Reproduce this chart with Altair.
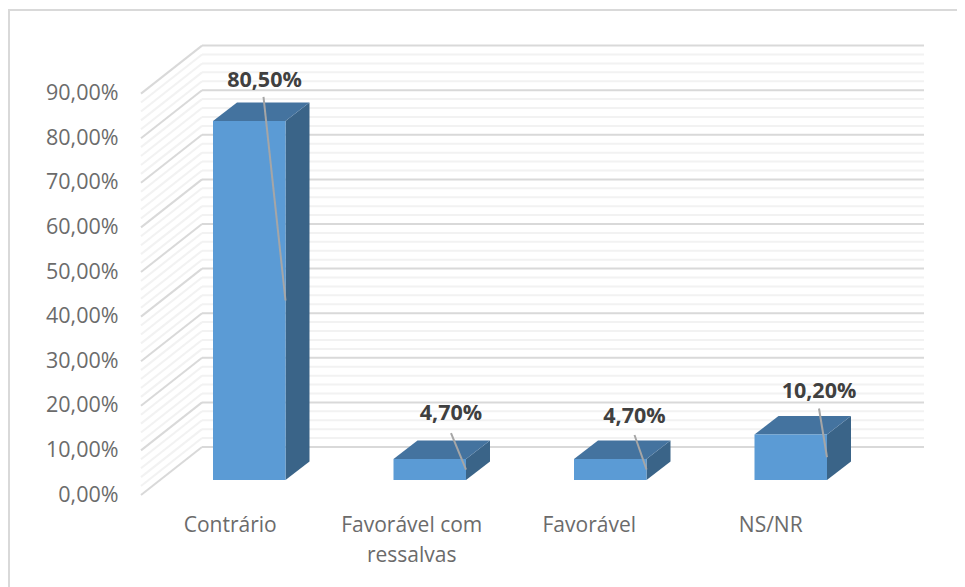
import altair as alt
import pandas as pd

categories = ["Contrário", "Favorável com ressalvas", "Favorável", "NS/NR"]
category_lines = ["Contrário", "Favorável com\nressalvas", "Favorável", "NS/NR"]
values = [80.5, 4.7, 4.7, 10.2]
value_labels = ["80,50%", "4,70%", "4,70%", "10,20%"]
major_ticks = [0, 10, 20, 30, 40, 50, 60, 70, 80, 90]
minor_ticks = [v for v in range(0, 91, 2) if v % 10 != 0]

# layout (pixels -> data units)
PX_U = 180.5      # px per category band
PX_Y = 4.46       # px per percentage point
W, H = 783, 449
U_FRONT = -19 / PX_U
U_BACK = 42 / PX_U
U_END = U_FRONT + W / PX_U
Y_TOP = H / PX_Y
WALL_DY = 48 / PX_Y
BASE = 15 / PX_Y
BAR_W = 72.5 / PX_U
BAR_SHIFT = -1 / PX_U
D_U = 24 / PX_U
D_Y = 18.5 / PX_Y
LEADER_DX = [-22, -15, -12, -8]
LEADER_UP = [24, 26, 24, 26]
LABEL_DX = [1, 0, 0, 0]
LABEL_UP = [16, 19, 18, 17]
CAT_DX = [-1, 0, -3, -2]

xs = alt.Scale(domain=[U_FRONT, U_END], nice=False, zero=False)
ys = alt.Scale(domain=[0, Y_TOP], nice=False, zero=False)
y_axis = alt.Axis(
    values=major_ticks, domain=False, ticks=False, grid=False, title=None,
    labelExpr="replace(format(datum.value, '.2f'), '.', ',') + '%'",
    labelFont="Open Sans", labelFontSize=21.5, labelColor="#6b6b6b", labelPadding=23)
X = lambda f="x": alt.X(f"{f}:Q", scale=xs, axis=None)
Y = lambda f="y": alt.Y(f"{f}:Q", scale=ys, axis=y_axis)

front, top, side, leaders, labels = [], [], [], [], []
for i, (c, v, t) in enumerate(zip(categories, values, value_labels)):
    x0 = i + 0.5 - BAR_W / 2 + BAR_SHIFT
    x1 = x0 + BAR_W
    y1 = BASE + v
    front.append(dict(c=c, x=x0, x2=x1, y=BASE, y2=y1))
    for x, a, b in [(x0, y1, y1), (x0 + D_U, y1 + D_Y, y1), (x1, y1 + D_Y, y1), (x1 + D_U, y1 + D_Y, y1 + D_Y)]:
        top.append(dict(c=c, x=x, y=a, y2=b))
    for x, a, b in [(x1, y1, BASE), (x1 + D_U, y1 + D_Y, BASE + D_Y)]:
        side.append(dict(c=c, x=x, y=a, y2=b))
    lx = x1 + LEADER_DX[i] / PX_U
    ly = y1 + LEADER_UP[i] / PX_Y
    leaders.append(dict(x=x1, y=BASE + v / 2, x2=lx, y2=ly))
    labels.append(dict(x=lx + LABEL_DX[i] / PX_U, y=ly + LABEL_UP[i] / PX_Y, t=t))

cat_rows = [
    dict(x=i + 0.5 + U_FRONT + CAT_DX[i] / PX_U, y=-(525 - 495) / PX_Y, t=lines)
    for i, lines in enumerate(category_lines)
]


def grid_rows(ticks):
    return [dict(x=U_BACK, x2=U_END, y=v + WALL_DY, xa=U_FRONT, ya=v) for v in ticks]


def grid(ticks, color):
    d = alt.Data(values=grid_rows(ticks))
    back = alt.Chart(d).mark_rule(color=color, strokeWidth=2).encode(
        x=X("x"), x2="x2:Q", y=Y("y"))
    wall = alt.Chart(d).mark_rule(color=color, strokeWidth=2).encode(
        x=X("xa"), x2="x:Q", y=Y("ya"), y2="y:Q")
    return back + wall


frame_left = alt.Chart(alt.Data(values=[{}])).mark_rule(color="#d9d9d9", strokeWidth=2).encode(
    x=alt.value(-132), y=alt.value(-37), y2=alt.value(H + 92))
frame_top = alt.Chart(alt.Data(values=[{}])).mark_rule(color="#d9d9d9", strokeWidth=2).encode(
    y=alt.value(-36), x=alt.value(-133), x2=alt.value(W + 33))

front_l = alt.Chart(alt.Data(values=front)).mark_rect(color="#5b9bd5").encode(
    x=X(), x2="x2:Q", y=Y(), y2="y2:Q")
top_l = alt.Chart(alt.Data(values=top)).mark_area(color="#44739f", interpolate="linear").encode(
    x=X(), y=Y(), y2="y2:Q", detail="c:N")
side_l = alt.Chart(alt.Data(values=side)).mark_area(color="#3a6488", interpolate="linear").encode(
    x=X(), y=Y(), y2="y2:Q", detail="c:N")
leader_l = alt.Chart(alt.Data(values=leaders)).mark_rule(color="#a6a6a6", strokeWidth=2).encode(
    x=X(), x2="x2:Q", y=Y(), y2="y2:Q")
label_l = alt.Chart(alt.Data(values=labels)).mark_text(
    font="Open Sans", fontSize=21.5, fontWeight="bold", color="#404040", baseline="middle", align="center"
).encode(x=X(), y=Y(), text="t:N")
cat_l = alt.Chart(alt.Data(values=cat_rows)).mark_text(
    font="Open Sans", fontSize=21, color="#6b6b6b", baseline="top", dy=-10, align="center",
    lineHeight=30, lineBreak="\n"
).encode(x=X(), y=Y(), text="t:N")

chart = alt.layer(
    frame_left, frame_top,
    grid(minor_ticks, "#f2f2f2"), grid(major_ticks, "#d9d9d9"),
    side_l, top_l, front_l, leader_l, label_l, cat_l,
).properties(
    width=W, height=H,
    padding={"left": 133, "top": 38, "right": 33, "bottom": 92},
    autosize=alt.AutoSizeParams(type="none"),
    background="white",
).configure_view(stroke=None)

chart.save("out.html", embed_options={"renderer": "svg", "actions": False})
